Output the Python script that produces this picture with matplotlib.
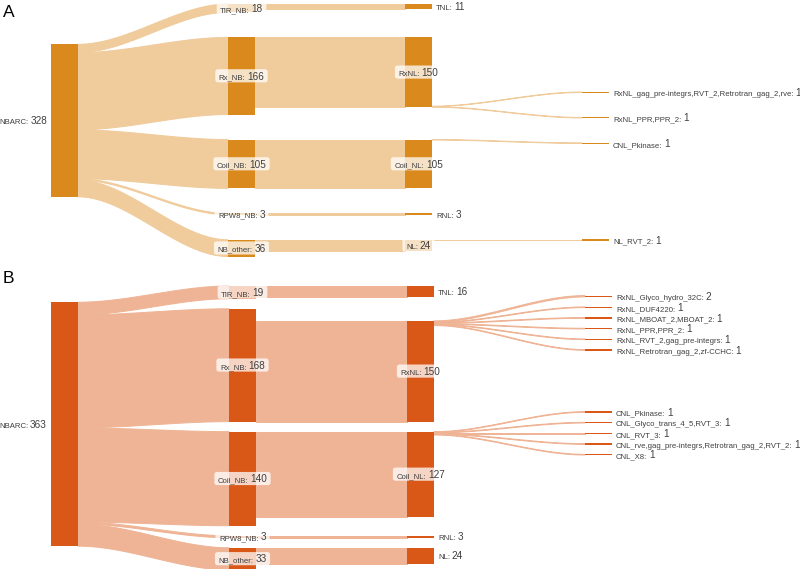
import numpy as np
import matplotlib
matplotlib.use("Agg")
import matplotlib.pyplot as plt
from matplotlib.patches import Rectangle, Polygon, FancyBboxPatch

# ---------------- data : panel A ----------------
A_root_name = "NBARC"
A_root_value = 328
A_nb_names = ["TIR_NB", "Rx_NB", "Coil_NB", "RPW8_NB", "NB_other"]
A_nb_values = [18, 166, 105, 3, 36]
A_nl_names = ["TNL", "RxNL", "Coil_NL", "RNL", "NL"]
A_nl_values = [11, 150, 105, 3, 24]
A_dom_names = ["RxNL_gag_pre-integrs,RVT_2,Retrotran_gag_2,rve",
               "RxNL_PPR,PPR_2", "CNL_Pkinase", "NL_RVT_2"]
A_dom_values = [1, 1, 1, 1]
A_dom_parents = ["RxNL", "RxNL", "Coil_NL", "NL"]

# ---------------- data : panel B ----------------
B_root_name = "NBARC"
B_root_value = 363
B_nb_names = ["TIR_NB", "Rx_NB", "Coil_NB", "RPW8_NB", "NB_other"]
B_nb_values = [19, 168, 140, 3, 33]
B_nl_names = ["TNL", "RxNL", "Coil_NL", "RNL", "NL"]
B_nl_values = [16, 150, 127, 3, 24]
B_dom_names = ["RxNL_Glyco_hydro_32C", "RxNL_DUF4220", "RxNL_MBOAT_2,MBOAT_2",
               "RxNL_PPR,PPR_2", "RxNL_RVT_2,gag_pre-integrs",
               "RxNL_Retrotran_gag_2,zf-CCHC",
               "CNL_Pkinase", "CNL_Glyco_trans_4_5,RVT_3", "CNL_RVT_3",
               "CNL_rve,gag_pre-integrs,Retrotran_gag_2,RVT_2", "CNL_X8"]
B_dom_values = [2, 1, 1, 1, 1, 1, 1, 1, 1, 1, 1]
B_dom_parents = ["RxNL"] * 6 + ["Coil_NL"] * 5

# ---------------- layout / style ----------------
W, H = 800, 569
FONT = "Liberation Sans"
TXT = "#3f3f3f"
NAME_FS = 5.6
VAL_FS = 7.2
NODE_W = 27

panels = [
    dict(letter="A", letter_base=17,
         data=(A_root_name, A_root_value, A_nb_names, A_nb_values,
               A_nl_names, A_nl_values, A_dom_names, A_dom_values, A_dom_parents),
         top_px=4, scale=0.465, pad_px=25.0, x_left=[51, 228, 405, 582],
         node_color="#DA891C", link_color="#F0CB9B",
         nl_align={}, out_side={"RxNL": "bottom"},
         nl_label={"TNL": "right", "RxNL": "center", "Coil_NL": "center",
                   "RNL": "right", "NL": "center"}),
    dict(letter="B", letter_base=283,
         data=(B_root_name, B_root_value, B_nb_names, B_nb_values,
               B_nl_names, B_nl_values, B_dom_names, B_dom_values, B_dom_parents),
         top_px=286, scale=0.672, pad_px=10.0, x_left=[51, 229, 407, 585],
         node_color="#DA5817", link_color="#EFB495",
         nl_align={"RxNL": 1.0}, out_side={},
         nl_label={"TNL": "right", "RxNL": "center", "Coil_NL": "center",
                   "RNL": "right", "NL": "right"}),
]


def pava(d):
    blocks = []
    for v in d:
        blocks.append([v, 1])
        while len(blocks) > 1 and blocks[-2][0] / blocks[-2][1] > blocks[-1][0] / blocks[-1][1]:
            s, c = blocks.pop()
            blocks[-1][0] += s
            blocks[-1][1] += c
    out = []
    for s, c in blocks:
        out += [s / c] * c
    return np.array(out)


def band(ax, x0, ya0, ya1, x1, yb0, yb1, color, z=1):
    t = np.linspace(0, 1, 60)
    s = 3 * t ** 2 - 2 * t ** 3
    xs = x0 + (x1 - x0) * t
    top = ya0 + (yb0 - ya0) * s
    bot = ya1 + (yb1 - ya1) * s
    pts = np.column_stack([np.r_[xs, xs[::-1]], np.r_[top, bot[::-1]]])
    ax.add_patch(Polygon(pts, closed=True, facecolor=color, edgecolor=color,
                         linewidth=0.7, zorder=z))


fig = plt.figure(figsize=(W / 100, H / 100), dpi=100)
renderer = fig.canvas.get_renderer()
NAME_PX = NAME_FS * 100 / 72
VAL_PX = VAL_FS * 100 / 72


def label(ax, sc, x, yc, name, value, where, boxed):
    t1 = ax.text(0, 0, name + ":", fontsize=NAME_FS, family=FONT, color=TXT,
                 ha="left", va="baseline", zorder=6)
    t2 = ax.text(0, 0, str(value), fontsize=VAL_FS, family=FONT, color=TXT,
                 ha="left", va="baseline", zorder=6)
    w1 = t1.get_window_extent(renderer).width
    w2 = t2.get_window_extent(renderer).width
    gap = 0.24 * NAME_PX
    total = w1 + gap + w2
    if where == "center":
        x0 = x - total / 2
    elif where == "right":
        x0 = x
    else:
        x0 = x - total
    base = yc + 0.36 * VAL_PX / sc
    t1.set_position((x0, base))
    t2.set_position((x0 + w1 + gap, base))
    if boxed:
        padx = 3.5
        top = base - (0.716 * VAL_PX + 3.2) / sc
        bot = base + 2.8 / sc
        ax.add_patch(FancyBboxPatch((x0 - padx, top), total + 2 * padx, bot - top,
                                    boxstyle="round,pad=0,rounding_size=2.5",
                                    mutation_aspect=1 / sc, facecolor="white",
                                    edgecolor="none", alpha=0.75, zorder=5))


for P in panels:
    (root_name, root_value, nb_names, nb_values, nl_names, nl_values,
     dom_names, dom_values, dom_parents) = P["data"]
    sc = P["scale"]
    pad = P["pad_px"] / sc
    xl = P["x_left"]
    ax = fig.add_axes([0, 0, 1, 1])
    ax.set_xlim(0, W)
    ax.set_ylim((H - P["top_px"]) / sc, -P["top_px"] / sc)
    ax.axis("off")
    ax.patch.set_alpha(0)
    minh = 1.3 / sc

    def node(col, top, h):
        hh = max(h, minh)
        c = top + h / 2
        ax.add_patch(Rectangle((xl[col], c - hh / 2), NODE_W, hh,
                               facecolor=P["node_color"], edgecolor="none", zorder=3))

    # column 1 (NB)
    tops1, y = [], 0.0
    for v in nb_values:
        tops1.append(y)
        y += v + pad
    cent1 = [t + v / 2 for t, v in zip(tops1, nb_values)]
    root_c = sum(v * c for v, c in zip(nb_values, cent1)) / sum(nb_values)
    root_top = root_c - root_value / 2

    # root -> NB links
    y = root_top
    for t, v in zip(tops1, nb_values):
        band(ax, xl[0] + NODE_W, y, y + v, xl[1], t, t + v, P["link_color"])
        y += v

    # column 2 (NL)
    tops2 = {}
    for i, (n, v) in enumerate(zip(nl_names, nl_values)):
        a = P["nl_align"].get(n, 0.0)
        t = tops1[i] + a * (nb_values[i] - v)
        tops2[n] = t
        band(ax, xl[1] + NODE_W, t, t + v, xl[2], t, t + v, P["link_color"])

    # column 3 (domains)
    nlv = dict(zip(nl_names, nl_values))
    heights = np.array(dom_values, float)
    offs = [0.0]
    for i in range(1, len(heights)):
        offs.append(offs[-1] + (heights[i - 1] + heights[i]) / 2 + pad)
    offs = np.array(offs)
    slots = {}
    ideal = np.zeros(len(heights))
    for parent in dict.fromkeys(dom_parents):
        idx = [i for i, p in enumerate(dom_parents) if p == parent]
        tot = sum(dom_values[i] for i in idx)
        side = P["out_side"].get(parent, "top")
        b0 = tops2[parent] if side == "top" else tops2[parent] + nlv[parent] - tot
        y = b0
        for i in idx:
            slots[i] = (y, y + dom_values[i])
            y += dom_values[i]
        bc = b0 + tot / 2
        ideal[idx] = bc + offs[idx] - offs[idx].mean()
    cents3 = pava(ideal - offs) + offs

    for i, (n, v) in enumerate(zip(dom_names, dom_values)):
        c = cents3[i]
        s0, s1 = slots[i]
        band(ax, xl[2] + NODE_W, s0, s1, xl[3], c - v / 2, c + v / 2, P["link_color"], z=2)
        node(3, c - v / 2, v)
        label(ax, sc, xl[3] + NODE_W + 4, c, n, v, "right", False)

    # nodes
    node(0, root_top, root_value)
    for t, v in zip(tops1, nb_values):
        node(1, t, v)
    for n, v in zip(nl_names, nl_values):
        node(2, tops2[n], v)

    # labels
    label(ax, sc, xl[0] - 4, root_c, root_name, root_value, "left", False)
    for n, t, v in zip(nb_names, tops1, nb_values):
        label(ax, sc, xl[1] + NODE_W / 2, t + v / 2, n, v, "center", True)
    for n, v in zip(nl_names, nl_values):
        where = P["nl_label"][n]
        x = xl[2] + NODE_W / 2 if where == "center" else xl[2] + NODE_W + 4
        label(ax, sc, x, tops2[n] + v / 2, n, v, where, where == "center")

    fig.text(3 / W, 1 - P["letter_base"] / H, P["letter"], fontsize=12.5,
             family=FONT, color="black", va="baseline", ha="left")

fig.savefig("out.png", dpi=100)
